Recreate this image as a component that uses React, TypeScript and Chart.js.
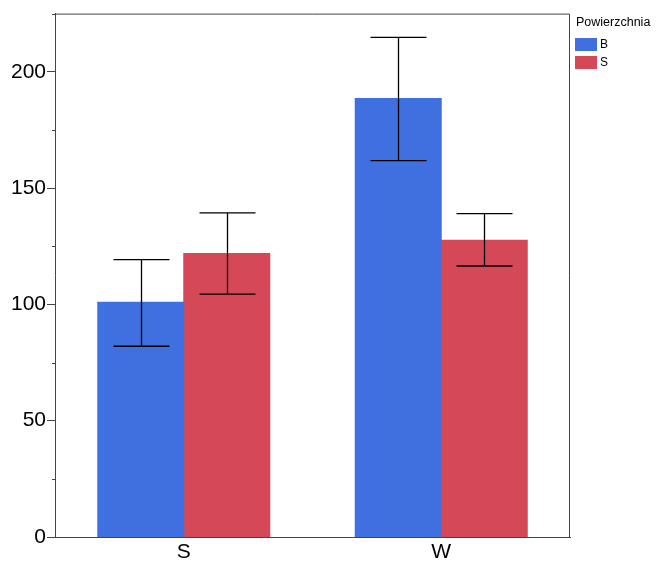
import React, { useEffect, useRef } from "react";
import { Chart, registerables } from "chart.js";

Chart.register(...registerables);

const categories = ["S", "W"];
const seriesNames = ["B", "S"];
const valuesB = [100.9, 188.5];
const valuesS = [121.9, 127.6];
const errLowB = [82.0, 161.8];
const errHighB = [119.2, 214.8];
const errLowS = [104.4, 116.5];
const errHighS = [139.3, 139.0];
const yTicks = [0, 50, 100, 150, 200];
const yMinorTicks = [25, 75, 125, 175, 225];
const colorB = "#4070DF";
const colorS = "#D44858";
const legendTitle = "Powierzchnia";

const FONT = "'Liberation Sans', Arial, sans-serif";

const errorBarPlugin = {
  id: "errorBars",
  afterDatasetsDraw(chart: any) {
    const ctx = chart.ctx;
    const y = chart.scales.y;
    const lows = [errLowB, errLowS];
    const highs = [errHighB, errHighS];
    ctx.save();
    ctx.strokeStyle = "#000";
    ctx.lineWidth = 1.3;
    chart.data.datasets.forEach((_: any, di: number) => {
      const meta = chart.getDatasetMeta(di);
      meta.data.forEach((el: any, i: number) => {
        const x = Math.round(el.x) + 0.5;
        const yl = y.getPixelForValue(lows[di][i]);
        const yh = y.getPixelForValue(highs[di][i]);
        const hw = 28;
        ctx.beginPath();
        ctx.moveTo(x, yl);
        ctx.lineTo(x, yh);
        ctx.moveTo(x - hw, yl);
        ctx.lineTo(x + hw, yl);
        ctx.moveTo(x - hw, yh);
        ctx.lineTo(x + hw, yh);
        ctx.stroke();
      });
    });
    ctx.restore();
  },
};

const framePlugin = {
  id: "frame",
  afterDraw(chart: any) {
    const { ctx, chartArea } = chart;
    const y = chart.scales.y;
    ctx.save();
    ctx.strokeStyle = "#444";
    ctx.lineWidth = 1;
    ctx.beginPath();
    ctx.moveTo(chartArea.left + 0.5, chartArea.top + 0.5);
    ctx.lineTo(chartArea.right - 0.5, chartArea.top + 0.5);
    ctx.lineTo(chartArea.right - 0.5, chartArea.bottom);
    ctx.stroke();
    ctx.beginPath();
    yMinorTicks.forEach((v) => {
      const py = Math.round(y.getPixelForValue(v)) + 0.5;
      if (py >= chartArea.top) {
        ctx.moveTo(chartArea.left - 3, py);
        ctx.lineTo(chartArea.left, py);
      }
    });
    ctx.stroke();
    ctx.restore();
  },
};

export default function App() {
  const ref = useRef<HTMLCanvasElement>(null);
  useEffect(() => {
    if (!ref.current) return;
    const chart = new Chart(ref.current, {
      type: "bar",
      data: {
        labels: categories,
        datasets: [
          { label: seriesNames[0], data: valuesB, backgroundColor: colorB, borderWidth: 0, inflateAmount: 0.5 },
          { label: seriesNames[1], data: valuesS, backgroundColor: colorS, borderWidth: 0, inflateAmount: 0.5 },
        ],
      },
      plugins: [errorBarPlugin, framePlugin],
      options: {
        animation: false,
        responsive: false,
        maintainAspectRatio: false,
        layout: { padding: { left: 0, right: 92, top: 10, bottom: 0 } },
        datasets: { bar: { categoryPercentage: 0.668, barPercentage: 1.0 } },
        plugins: { legend: { display: false }, tooltip: { enabled: false } },
        scales: {
          x: {
            grid: { display: false, drawTicks: false },
            border: { display: true, color: "#444", width: 1 },
            ticks: { color: "#000", font: { family: FONT, size: 21 }, padding: 3 },
            afterFit: (s: any) => {
              s.height = 30;
            },
          },
          y: {
            min: 0,
            max: 225,
            afterBuildTicks: (s: any) => {
              s.ticks = yTicks.map((v) => ({ value: v }));
            },
            grid: { drawOnChartArea: false, drawTicks: true, tickLength: 8, color: "#444" },
            border: { display: true, color: "#444", width: 1 },
            ticks: { color: "#000", font: { family: FONT, size: 21 }, padding: 1 },
            afterFit: (s: any) => {
              s.width = 55;
            },
          },
        },
      },
    });
    return () => chart.destroy();
  }, []);

  const legendItem = (label: string, color: string, top: number) => (
    <div style={{ position: "absolute", left: 575, top, display: "flex", alignItems: "center" }}>
      <div style={{ width: 22, height: 13, background: color }} />
      <span style={{ marginLeft: 3, fontSize: 12, color: "#000", fontFamily: FONT }}>{label}</span>
    </div>
  );

  return (
    <div style={{ position: "fixed", left: 0, top: 0, width: 662, height: 567, background: "#fff" }}>
      <canvas ref={ref} width={662} height={567} style={{ position: "absolute", left: 0, top: 0 }} />
      <div style={{ position: "absolute", left: 576, top: 15, fontSize: 12.5, fontFamily: FONT, color: "#000" }}>
        {legendTitle}
      </div>
      {legendItem(seriesNames[0], colorB, 37)}
      {legendItem(seriesNames[1], colorS, 55)}
    </div>
  );
}
